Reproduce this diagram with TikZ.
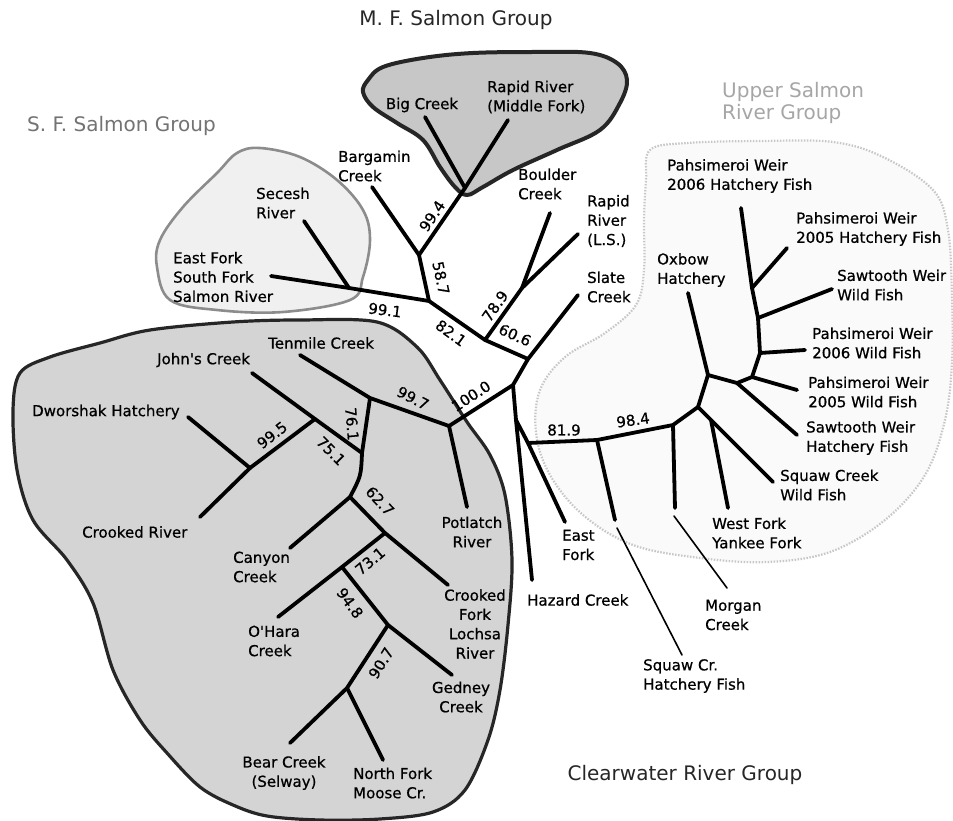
\documentclass[tikz,border=0pt]{standalone}
\usepackage{fontspec}
\setmainfont{DejaVu Sans}
\newfontfamily\labfont{DejaVu Sans}[FakeBold=0.7]
\begin{document}
\begin{tikzpicture}[x=1pt,y=-1pt,
  br/.style={line width=3.8pt, line cap=round, line join=round},
  thinbr/.style={line width=1.6pt, line cap=round},
  lab/.style={inner sep=0pt, font=\labfont\fontsize{15}{19.3}\selectfont, align=left, anchor=west},
  labc/.style={inner sep=0pt, font=\labfont\fontsize{15}{19.3}\selectfont, align=center, anchor=center},
  num/.style={inner sep=0pt, font=\labfont\fontsize{15}{18}\selectfont, anchor=center},
  grp/.style={inner sep=0pt, font=\fontsize{20}{22.5}\selectfont, align=left}]
\fill[white] (0,0) rectangle (953,821);
\useasboundingbox (0,0) rectangle (953,821);

% ---------- group outlines ----------
\draw[black!22, line width=2.2pt, dash pattern=on 1.5pt off 1.5pt, fill=black!2]
  plot[smooth cycle, tension=0.6] coordinates {
  (650,150) (687,143) (760,141) (833,142) (883,157) (933,190) (948,230) (952,297)
  (952,363) (945,420) (925,475) (885,520) (830,552) (767,562) (700,558) (633,545)
  (583,515) (550,475) (536,433) (540,390) (565,357) (605,333) (636,305) (644,270)
  (644,220) (646,180)};
\draw[black!45, line width=2.6pt, fill=black!6]
  plot[smooth cycle, tension=0.6] coordinates {
  (260,148) (300,157) (337,180) (363,210) (370,240) (363,277) (350,300) (283,312)
  (217,310) (170,300) (157,267) (160,240) (183,207) (217,173) (237,153)};
\draw[black!85, line width=4pt, fill=black!22]
  plot[smooth cycle, tension=0.6] coordinates {
  (368,80) (383,67) (423,58) (473,53) (540,52) (590,53) (617,63) (627,80) (620,103)
  (600,130) (557,150) (513,170) (483,187) (467,195) (455,187) (440,167) (423,140)
  (397,123) (373,107) (363,92)};
\draw[black!85, line width=3.2pt, fill=black!17]
  plot[smooth cycle, tension=0.55] coordinates {
  (20,373) (50,357) (100,343) (150,330) (233,322) (300,320) (377,322) (417,347)
  (440,380) (467,422) (490,455) (505,495) (512,560) (508,625) (500,690) (488,740)
  (465,790) (433,812) (380,819) (320,820) (267,816) (233,805) (200,787) (167,753)
  (140,720) (113,670) (93,603) (67,560) (33,520) (17,470) (13,410)};

% ---------- coordinates ----------
\coordinate (mf) at (465,188);
\coordinate (bigE) at (425,117);
\coordinate (rapmfE) at (508,120);
\coordinate (bg) at (419,255);
\coordinate (bargE) at (372,187);
\coordinate (sf) at (429,301);
\coordinate (sec) at (349,288);
\coordinate (secE) at (304,221);
\coordinate (efE) at (271,276);
\coordinate (a) at (485,340);
\coordinate (br) at (522,288);
\coordinate (boulE) at (550,213);
\coordinate (rapE) at (578,234);
\coordinate (s) at (528,359);
\coordinate (slateE) at (578,295);
\coordinate (r) at (513,385);
\coordinate (hz) at (516,420);
\coordinate (hazE) at (532,580);
\coordinate (ef) at (528,443);
\coordinate (eastE) at (565,522);
\coordinate (z) at (597,440);
\coordinate (sqhT) at (615,520);
\coordinate (sqhS) at (617,528);
\coordinate (sqhE) at (682,655);
\coordinate (w) at (673,425);
\coordinate (morT) at (675,508);
\coordinate (morS) at (674,516);
\coordinate (morE) at (727,588);
\coordinate (v) at (698,407);
\coordinate (v2) at (711,420);
\coordinate (sqwE) at (773,482);
\coordinate (wfE) at (728,508);
\coordinate (u) at (708,375);
\coordinate (oxE) at (688,293);
\coordinate (t1) at (737,383);
\coordinate (sawhE) at (797,435);
\coordinate (t2) at (752,377);
\coordinate (p05wE) at (797,390);
\coordinate (t3) at (760,353);
\coordinate (p06wE) at (805,350);
\coordinate (t4) at (758,318);
\coordinate (sawwE) at (832,289);
\coordinate (t5) at (752,288);
\coordinate (p05hE) at (787,248);
\coordinate (p06hE) at (741,208);
\coordinate (cw) at (449,426);
\coordinate (potE) at (467,507);
\coordinate (j) at (370,398);
\coordinate (tenE) at (300,355);
\coordinate (k) at (362,453);
\coordinate (d) at (315,419);
\coordinate (johnE) at (252,373);
\coordinate (e) at (250,468);
\coordinate (dworE) at (188,417);
\coordinate (crrE) at (200,517);
\coordinate (l) at (350,497);
\coordinate (canE) at (290,548);
\coordinate (m) at (385,533);
\coordinate (crfE) at (448,585);
\coordinate (n) at (342,567);
\coordinate (ohE) at (278,617);
\coordinate (p) at (388,625);
\coordinate (gedE) at (452,675);
\coordinate (q) at (347,688);
\coordinate (bearE) at (290,743);
\coordinate (nfmE) at (383,760);

% ---------- branches ----------
\draw[br] (bigE) -- (mf) -- (rapmfE);
\draw[br] (mf) -- (bg) -- (bargE);
\draw[br] (bg) -- (sf);
\draw[br] (efE) -- (sec) -- (sf);
\draw[br] (sec) -- (secE);
\draw[br] (sf) -- (a) -- (br) -- (boulE);
\draw[br] (br) -- (rapE);
\draw[br] (a) -- (s) -- (slateE);
\draw[br] (s) -- (r) -- (cw);
\draw[br] (r) -- (hz) -- (hazE);
\draw[br] (hz) -- (ef) -- (eastE);
\draw[br] (ef) -- (z) -- (w) -- (v) -- (u) -- (t1) -- (t2) -- (t3) -- (t4) -- (t5) -- (p06hE);
\draw[br] (z) -- (sqhT);
\draw[thinbr] (sqhS) -- (sqhE);
\draw[br] (w) -- (morT);
\draw[thinbr] (morS) -- (morE);
\draw[br] (v) -- (v2) -- (sqwE);
\draw[br] (v2) -- (wfE);
\draw[br] (u) -- (oxE);
\draw[br] (t1) -- (sawhE);
\draw[br] (t2) -- (p05wE);
\draw[br] (t3) -- (p06wE);
\draw[br] (t4) -- (sawwE);
\draw[br] (t5) -- (p05hE);
\draw[br] (cw) -- (potE);
\draw[br] (cw) -- (j) -- (tenE);
\draw[br] (j) -- (k) .. controls (361,476) .. (l);
\draw[br] (johnE) -- (d) -- (k);
\draw[br] (d) -- (e);
\draw[br] (dworE) -- (e) -- (crrE);
\draw[br] (l) -- (canE);
\draw[br] (l) -- (m) -- (crfE);
\draw[br] (m) -- (n) -- (ohE);
\draw[br] (n) -- (p) -- (gedE);
\draw[br] (p) -- (q) -- (bearE);
\draw[br] (q) -- (nfmE);

% ---------- support values ----------
\node[num, rotate=56] (v994) at (432,216) {99.4};
\node[num, rotate=-78] (v587) at (441,278) {58.7};
\node[num, rotate=-7] (v991) at (385,310) {99.1};
\node[num, rotate=-36] (v821) at (451,333) {82.1};
\node[num, rotate=55] (v789) at (495,306) {78.9};
\node[num, rotate=-24] (v606) at (515,335) {60.6};
\node[num, rotate=33] (v1000) at (471,396) {100.0};
\node[num] (v819) at (564,430) {81.9};
\node[num, rotate=8] (v984) at (633,420) {98.4};
\node[num, rotate=-27] (v997) at (413,398) {99.7};
\node[num, rotate=-85] (v761) at (352,424) {76.1};
\node[num, rotate=-45] (v751) at (331,451) {75.1};
\node[num, rotate=38] (v995) at (272,435) {99.5};
\node[num, rotate=-47] (v627) at (380,501) {62.7};
\node[num, rotate=40] (v731) at (370,561) {73.1};
\node[num, rotate=-54] (v948) at (350,603) {94.8};
\node[num, rotate=58] (v907) at (381,663) {90.7};

% ---------- leaf labels ----------
\node[labc] (lbig) at (422,105) {Big Creek};
\node[lab] (lrapmf) at (487,97) {Rapid River\\(Middle Fork)};
\node[lab] (lbarg) at (338,166) {Bargamin\\Creek};
\node[lab] (lsec) at (256,203) {Secesh\\River};
\node[lab] (lef) at (173,277) {East Fork\\South Fork\\Salmon River};
\node[lab] (lboul) at (518,184) {Boulder\\Creek};
\node[lab] (lrap) at (587,221) {Rapid\\River\\(L.S.)};
\node[lab] (lslate) at (587,287) {Slate\\Creek};
\node[lab] (lox) at (657,270) {Oxbow\\Hatchery};
\node[lab] (lp06h) at (667,176) {Pahsimeroi Weir\\2006 Hatchery Fish};
\node[lab] (lp05h) at (796,229) {Pahsimeroi Weir\\2005 Hatchery Fish};
\node[lab] (lsaww) at (837,285) {Sawtooth Weir\\Wild Fish};
\node[lab] (lp06w) at (812,343) {Pahsimeroi Weir\\2006 Wild Fish};
\node[lab] (lp05w) at (808,392) {Pahsimeroi Weir\\2005 Wild Fish};
\node[lab] (lsawh) at (806,438) {Sawtooth Weir\\Hatchery Fish};
\node[lab] (lsqw) at (780,485) {Squaw Creek\\Wild Fish};
\node[lab] (lwf) at (712,533) {West Fork\\Yankee Fork};
\node[lab] (lmor) at (705,615) {Morgan\\Creek};
\node[lab] (lsqh) at (643,676) {Squaw Cr.\\Hatchery Fish};
\node[lab] (least) at (562,545) {East\\Fork};
\node[lab] (lhaz) at (527,600) {Hazard Creek};
\node[lab] (lten) at (268,343) {Tenmile Creek};
\node[lab] (ljohn) at (157,360) {John\textquotesingle s Creek};
\node[lab] (ldwor) at (32,412) {Dworshak Hatchery};
\node[lab] (lcrr) at (82,532) {Crooked River};
\node[lab] (lcan) at (233,567) {Canyon\\Creek};
\node[lab] (loh) at (248,641) {O\textquotesingle Hara\\Creek};
\node[labc] (lbear) at (284,773) {Bear Creek\\(Selway)};
\node[lab] (lnfm) at (353,783) {North Fork\\Moose Cr.};
\node[labc] (lpot) at (472,532) {Potlatch\\River};
\node[labc] (lcrf) at (475,624) {Crooked\\Fork\\Lochsa\\River};
\node[labc] (lged) at (461,697) {Gedney\\Creek};

% ---------- group titles ----------
\node[grp, anchor=center, text=black!85] (gmf) at (456,20) {M. F. Salmon Group};
\node[grp, anchor=west, text=black!55] (gsf) at (27,126) {S. F. Salmon Group};
\node[grp, anchor=west, text=black!35] (gus) at (722,103) {Upper Salmon\\River Group};
\node[grp, anchor=center, text=black!85] (gcw) at (685,775) {Clearwater River Group};
\end{tikzpicture}
\end{document}
